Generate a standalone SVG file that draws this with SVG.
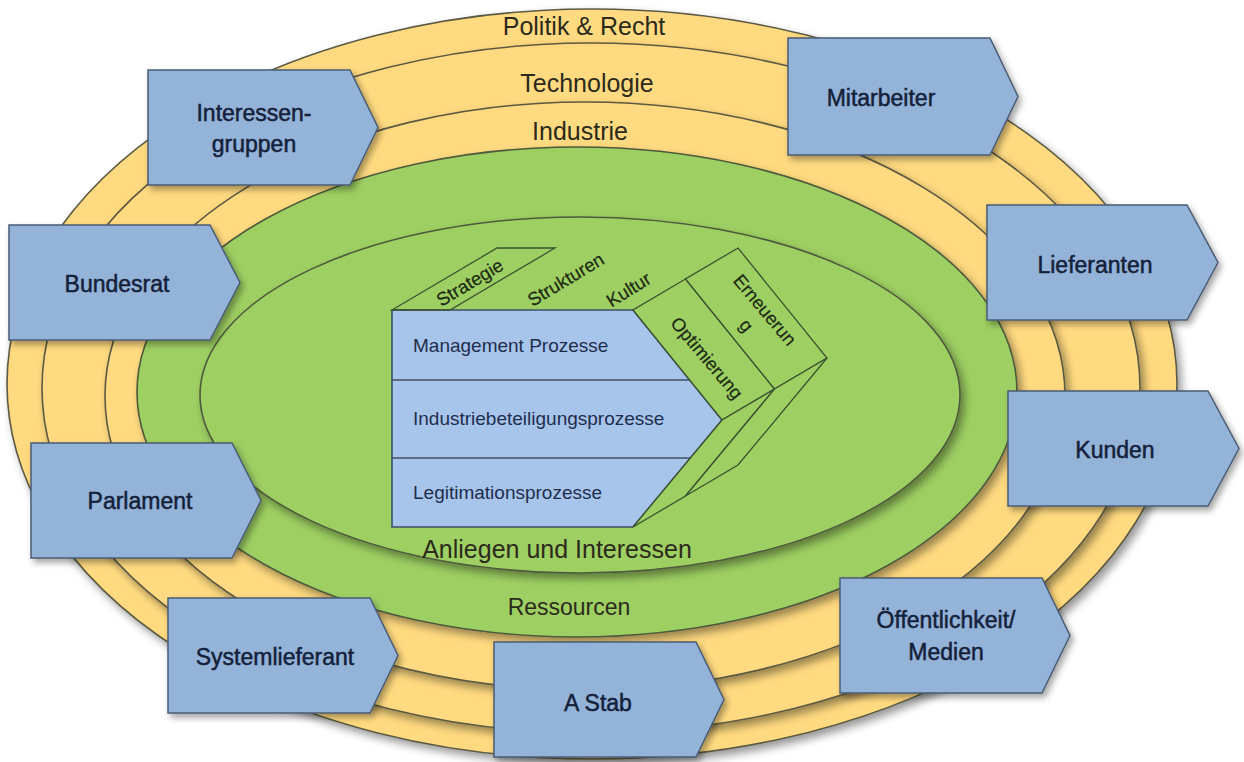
<svg xmlns="http://www.w3.org/2000/svg" width="1244" height="762" viewBox="0 0 1244 762">
<defs>
<filter id="sh" x="-10%" y="-10%" width="125%" height="125%">
<feDropShadow dx="4" dy="5" stdDeviation="4" flood-color="#000" flood-opacity="0.4"/>
</filter>
<filter id="shb" x="-10%" y="-10%" width="130%" height="130%">
<feDropShadow dx="3" dy="4" stdDeviation="3" flood-color="#000" flood-opacity="0.35"/>
</filter>
<style>
.ring{fill:#FFDA80;stroke:#5c5a42;stroke-width:1.6;filter:url(#sh)}
.green{fill:#9ECF62;stroke:#4d5a3c;stroke-width:1.6;filter:url(#sh)}
.box{fill:#94B3D8;stroke:#4a5c74;stroke-width:1.5;filter:url(#shb)}
.proc{fill:#A7C5EB;stroke:#3f5068;stroke-width:1.6}
.face{fill:#9ECF62;stroke:#3b5230;stroke-width:1.3}
.div{stroke:#3f5068;stroke-width:1.6;fill:none}
.t{font-family:"Liberation Sans",Arial,sans-serif;text-anchor:middle}
.bl{font-size:23px;fill:#14213a;stroke:#14213a;stroke-width:0.5}
.rl{font-size:25px;fill:#2b2a1c}
.pl{font-size:19px;fill:#1f2d4d;font-family:"Liberation Sans",Arial,sans-serif}
.gl{font-size:18.5px;fill:#1c2a14;stroke:#1c2a14;stroke-width:0.2}
</style>
</defs>
<rect width="1244" height="762" fill="#ffffff"/>
<g id="rings">
<ellipse id="ring-politik" class="ring" cx="592" cy="384" rx="585" ry="375"/>
<ellipse id="ring-technologie" class="ring" cx="591" cy="388" rx="549" ry="345"/>
<ellipse id="ring-industrie" class="ring" cx="585" cy="396" rx="480" ry="294"/>
<ellipse id="ring-ressourcen" class="green" cx="577" cy="392" rx="440" ry="245"/>
<ellipse id="ring-anliegen" class="green" cx="580" cy="395" rx="380" ry="178"/>
<text class="t rl" x="584" y="35">Politik &amp; Recht</text>
<text class="t rl" x="587" y="92">Technologie</text>
<text class="t rl" x="580" y="140">Industrie</text>
<text class="t rl" x="569" y="615" style="font-size:23px">Ressourcen</text>
<text class="t rl" x="557" y="558" style="font-size:25px">Anliegen und Interessen</text>
</g>
<g id="core">
<path class="proc" d="M392,310 L633,310 L722,420 L633,527 L392,527 Z"/>
<path class="div" d="M392,380 H690 M392,458 H690"/>
<text class="pl" x="413" y="352">Management Prozesse</text>
<text class="pl" x="413" y="425">Industriebeteiligungsprozesse</text>
<text class="pl" x="413" y="499">Legitimationsprozesse</text>
<polygon class="face" points="633,310 722,420 774.5,389 685.5,279"/>
<polygon class="face" points="685.5,279 774.5,389 827,358 738,248"/>
<polygon class="face" points="722,420 633,527 685.5,496 774.5,389"/>
<polygon class="face" points="774.5,389 685.5,496 738,465 827,358"/>
<polygon class="face" style="fill:none" points="392,310 450,310 555,248 497,248"/>
<text class="t gl" transform="translate(473,288) rotate(-31)">Strategie</text>
<text class="t gl" transform="translate(569,285) rotate(-31)">Strukturen</text>
<text class="t gl" transform="translate(632,295) rotate(-32)">Kultur</text>
<text class="t gl" transform="translate(702,362) rotate(50)">Optimierung</text>
<text class="t gl" transform="translate(760,314) rotate(50)">Erneuerun<tspan x="0" dy="24">g</tspan></text>
</g>
<g id="node-interessengruppen">
<path class="box" d="M148,70 H350 L378,127.5 L350,185 H148 Z"/>
<text class="t bl" x="254" y="121">Interessen-<tspan x="254" dy="31">gruppen</tspan></text>
</g>
<g id="node-mitarbeiter">
<path class="box" d="M788,38 H990 L1018,96.5 L990,155 H788 Z"/>
<text class="t bl" x="881" y="106">Mitarbeiter</text>
</g>
<g id="node-bundesrat">
<path class="box" d="M9,225 H210 L240,282.5 L210,340 H9 Z"/>
<text class="t bl" x="117" y="292">Bundesrat</text>
</g>
<g id="node-lieferanten">
<path class="box" d="M987,205 H1187 L1218,262.5 L1187,320 H987 Z"/>
<text class="t bl" x="1095" y="273">Lieferanten</text>
</g>
<g id="node-parlament">
<path class="box" d="M31,443 H232 L261,500.5 L232,558 H31 Z"/>
<text class="t bl" x="140" y="509">Parlament</text>
</g>
<g id="node-kunden">
<path class="box" d="M1008,391 H1208 L1239,448.5 L1208,506 H1008 Z"/>
<text class="t bl" x="1115" y="458">Kunden</text>
</g>
<g id="node-systemlieferant">
<path class="box" d="M168,598 H370 L398,655.5 L370,713 H168 Z"/>
<text class="t bl" x="275" y="665">Systemlieferant</text>
</g>
<g id="node-astab">
<path class="box" d="M494,642 H696 L724,699.5 L696,757 H494 Z"/>
<text class="t bl" x="598" y="711">A Stab</text>
</g>
<g id="node-oeffentlichkeit">
<path class="box" d="M840,578 H1042 L1070,635.5 L1042,693 H840 Z"/>
<text class="t bl" x="946" y="628">Öffentlichkeit/<tspan x="946" dy="32">Medien</tspan></text>
</g>
<g id="connectors"/>
</svg>
